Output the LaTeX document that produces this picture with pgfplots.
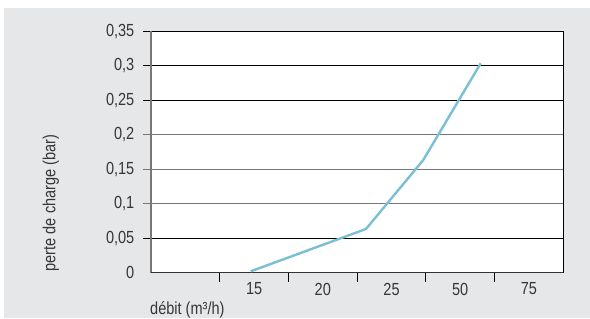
\documentclass[border=0pt]{standalone}
\usepackage{fontspec}
\setmainfont{Liberation Sans}[FakeStretch=0.83]
\usepackage{pgfplots}
\pgfplotsset{compat=1.18}
\definecolor{bg}{HTML}{E6E7E9}
\definecolor{curve}{HTML}{7BBFD4}
\definecolor{txt}{HTML}{363636}
\definecolor{gridgray}{HTML}{777777}
\begin{document}
\begin{tikzpicture}[x=1bp,y=1bp]
\useasboundingbox (0,0) rectangle (590,318);
\fill[bg] (4,0) rectangle (590,310);
\begin{axis}[
  at={(151bp,45.3bp)}, anchor=south west,
  scale only axis, width=412.3bp, height=241.4bp,
  xmin=0, xmax=6, ymin=0, ymax=0.35,
  clip=false,
  /pgf/number format/assume math mode=true,
  axis background/.style={fill=white},
  axis line style={draw=none},
  xtick pos=bottom, ytick pos=left,
  xtick={1,2,3,4,5},
  xticklabels={15,20,25,50,75},
  ytick={0,0.05,0.1,0.15,0.2,0.25,0.3,0.35},
  yticklabel={\pgfmathprintnumber[fixed,use comma,precision=2,assume math mode=true]{\tick}},
  major tick length=0pt,
  tick style={draw=none},
  tick label style={font=\fontsize{17.5bp}{20bp}\selectfont, text=txt},
  xticklabel style={anchor=north, inner sep=0pt, yshift=-10bp, xshift=34.36bp},
  yticklabel style={anchor=east, inner sep=0pt, xshift=-16.5bp},
  label style={font=\fontsize{17.5bp}{20bp}\selectfont, text=txt},
  xlabel={débit (m³/h)},
  xlabel style={at={(axis description cs:-0.0024,-0.1711)}, anchor=base west, inner sep=0pt},
  ylabel={perte de charge (bar)},
  ylabel style={at={(axis description cs:-0.243,0.2887)}, anchor=center, inner sep=0pt},
]
% horizontal grid lines with outward ticks
\draw[black, line width=1.1bp] ([xshift=-7.7bp]axis cs:0,0.35) -- (axis cs:6,0.35);
\draw[black, line width=1.1bp] ([xshift=-7.7bp]axis cs:0,0.3) -- (axis cs:6,0.3);
\draw[black, line width=1.1bp] ([xshift=-7.7bp]axis cs:0,0.25) -- (axis cs:6,0.25);
\draw[gridgray, line width=1.2bp] ([xshift=-7.7bp]axis cs:0,0.2) -- (axis cs:6,0.2);
\draw[gridgray, line width=1.2bp] ([xshift=-7.7bp]axis cs:0,0.15) -- (axis cs:6,0.15);
\draw[gridgray, line width=1.2bp] ([xshift=-7.7bp]axis cs:0,0.1) -- (axis cs:6,0.1);
\draw[black, line width=1.1bp] ([xshift=-7.7bp]axis cs:0,0.05) -- (axis cs:6,0.05);
% frame
\draw[gridgray, line width=1.1bp] (axis cs:0,0) -- (axis cs:0,0.35);
\draw[black, line width=1.1bp] (axis cs:6,0) -- (axis cs:6,0.35);
\draw[black!80, line width=1.1bp] (axis cs:0,0) -- (axis cs:6,0);
% x ticks
\draw[black, line width=1bp] (axis cs:1,0) -- ([yshift=-9bp]axis cs:1,0);
\draw[black, line width=1bp] (axis cs:2,0) -- ([yshift=-9bp]axis cs:2,0);
\draw[black, line width=1bp] (axis cs:3,0) -- ([yshift=-9bp]axis cs:3,0);
\draw[black, line width=1bp] (axis cs:4,0) -- ([yshift=-9bp]axis cs:4,0);
\draw[black, line width=1bp] (axis cs:5,0) -- ([yshift=-9bp]axis cs:5,0);
\addplot[curve, line width=2.4bp, line join=round] coordinates {
  (1.451,0.002) (3.129,0.0634) (3.962,0.1634) (4.798,0.3036)
};
\end{axis}
\end{tikzpicture}
\end{document}
